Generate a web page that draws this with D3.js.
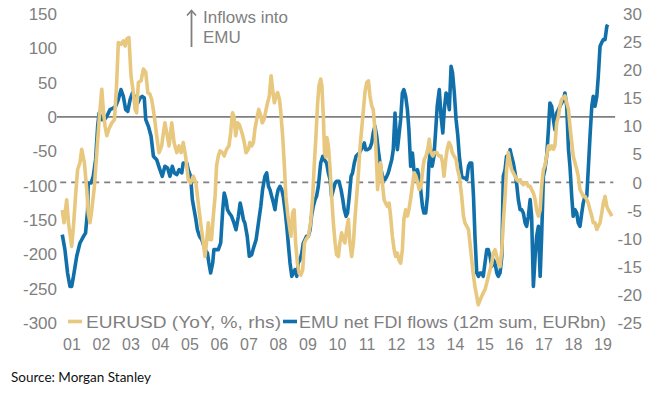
<!DOCTYPE html>
<html><head><meta charset="utf-8">
<script src="https://cdn.jsdelivr.net/npm/d3@7"></script>
<style>html,body{margin:0;padding:0;background:#fff;}svg{display:block;}</style>
</head><body>
<script>
// EURUSD YoY % (right axis) : [decimal year, value]
const eurusd = [
[2000.67,-4.9],[2000.73,-7.2],[2000.82,-3.1],[2000.88,-7.2],[2000.99,-11.4],[2001.05,-7.8],[2001.12,-2.5],[2001.19,2.3],[2001.27,3.5],[2001.33,5.9],[2001.42,3.5],[2001.50,-1.3],[2001.55,-5.4],[2001.61,-7.2],[2001.67,-4.9],[2001.76,-0.7],[2001.84,5.3],[2001.92,11.2],[2002.01,16.6],[2002.06,13.0],[2002.12,10.0],[2002.18,8.3],[2002.25,9.5],[2002.35,10.6],[2002.44,11.2],[2002.51,17.2],[2002.57,24.9],[2002.66,24.6],[2002.74,25.2],[2002.80,24.3],[2002.85,25.5],[2002.93,25.8],[2003.00,19.0],[2003.08,16.0],[2003.14,13.0],[2003.19,12.4],[2003.25,17.8],[2003.34,18.1],[2003.42,20.2],[2003.50,19.6],[2003.57,16.0],[2003.64,15.7],[2003.70,14.8],[2003.79,11.8],[2003.87,8.3],[2003.95,5.3],[2004.04,6.5],[2004.10,8.9],[2004.15,10.6],[2004.23,8.3],[2004.29,6.5],[2004.38,10.6],[2004.46,7.1],[2004.55,5.3],[2004.63,6.5],[2004.70,5.3],[2004.77,7.1],[2004.85,4.7],[2004.94,0.5],[2005.02,-0.1],
[2005.11,1.1],[2005.20,-0.1],[2005.28,-3.7],[2005.36,-7.2],[2005.45,-10.8],[2005.51,-13.2],[2005.57,-10.2],[2005.62,-7.2],[2005.68,-10.2],[2005.73,-10.2],[2005.79,-6.0],[2005.85,-2.5],[2005.90,2.9],[2005.96,4.7],[2006.02,5.6],[2006.10,5.3],[2006.16,4.7],[2006.24,5.9],[2006.32,6.5],[2006.38,8.9],[2006.44,12.4],[2006.49,11.8],[2006.55,8.3],[2006.61,10.6],[2006.67,10.3],[2006.72,9.5],[2006.79,8.3],[2006.84,7.1],[2006.90,5.3],[2006.98,5.9],[2007.03,7.1],[2007.09,6.5],[2007.15,7.1],[2007.20,9.5],[2007.26,11.2],[2007.33,13.0],[2007.40,11.8],[2007.45,10.6],[2007.51,11.2],[2007.58,13.0],[2007.63,14.2],[2007.69,15.4],[2007.75,19.0],[2007.80,16.6],[2007.86,14.2],[2007.92,15.4],[2007.97,16.0],[2008.03,14.8],[2008.07,13.0],[2008.14,8.3],[2008.20,2.9],[2008.25,-2.5],[2008.32,-6.0],[2008.37,-7.8],[2008.42,-9.6],[2008.48,-5.4],[2008.53,-4.9],[2008.58,-10.8],[2008.64,-14.4],[2008.70,-16.2],[2008.76,-16.5],[2008.82,-15.6],[2008.88,-10.8],[2008.93,-10.2],[2009.01,-9.6],[2009.09,-7.2],[2009.16,-2.5],[2009.21,2.9],[2009.27,8.3],[2009.32,13.6],[2009.37,17.2],[2009.43,18.4],[2009.47,17.2],[2009.52,11.8],[2009.56,5.3],[2009.60,4.5],[2009.64,8.0],
[2009.69,6.5],[2009.75,2.3],[2009.80,-2.5],[2009.86,-7.2],[2009.92,-10.8],[2009.97,-12.9],[2010.03,-13.2],[2010.08,-10.8],[2010.14,-9.0],[2010.20,-10.2],[2010.25,-10.8],[2010.31,-8.4],[2010.37,-6.6],[2010.42,-10.8],[2010.48,-13.2],[2010.54,-10.8],[2010.59,-6.6],[2010.65,-2.5],[2010.71,1.7],[2010.76,5.9],[2010.82,9.5],[2010.88,13.0],[2010.93,16.0],[2010.99,17.8],[2011.05,18.1],[2011.10,15.4],[2011.16,13.6],[2011.21,13.0],[2011.27,9.5],[2011.33,2.9],[2011.36,-1.3],[2011.41,1.7],[2011.46,3.5],[2011.52,-0.1],[2011.58,-3.1],[2011.63,-3.7],[2011.69,-4.3],[2011.75,-3.7],[2011.80,-6.0],[2011.86,-9.6],[2011.92,-12.0],[2011.97,-13.2],[2012.03,-12.6],[2012.08,-13.8],[2012.14,-14.4],[2012.20,-12.0],[2012.25,-6.6],[2012.31,-4.9],[2012.37,-6.0],[2012.42,-4.9],[2012.49,-2.5],[2012.55,-0.1],[2012.60,1.7],[2012.66,1.1],[2012.72,-0.1],[2012.77,-1.3],[2012.83,-0.7],[2012.89,2.3],[2012.94,4.1],[2013.00,4.7],[2013.06,5.9],[2013.11,7.7],[2013.17,5.3],[2013.23,4.7],[2013.28,5.3],[2013.36,5.3],[2013.44,4.7],[2013.51,4.7],[2013.56,3.5],[2013.61,1.1],[2013.67,4.1],[2013.72,5.9],[2013.78,7.1],[2013.84,6.5],[2013.89,5.3],[2013.95,4.7],[2014.02,4.1],[2014.07,2.3],[2014.13,1.1],
[2014.21,-2.5],[2014.27,-6.0],[2014.32,-7.2],[2014.38,-7.8],[2014.44,-8.4],[2014.49,-10.8],[2014.55,-13.8],[2014.60,-16.2],[2014.66,-18.6],[2014.72,-20.3],[2014.77,-21.8],[2014.83,-21.0],[2014.89,-20.3],[2014.94,-19.7],[2015.00,-19.1],[2015.06,-17.9],[2015.11,-16.8],[2015.17,-15.6],[2015.23,-14.4],[2015.28,-12.6],[2015.34,-12.0],[2015.40,-13.2],[2015.45,-14.4],[2015.51,-15.0],[2015.57,-12.0],[2015.62,-7.2],[2015.68,-2.5],[2015.73,2.3],[2015.79,5.3],[2015.85,3.5],[2015.90,2.3],[2015.96,1.7],[2016.02,1.1],[2016.07,0.5],[2016.13,0.2],[2016.19,0.5],[2016.24,-0.1],[2016.30,-0.4],[2016.36,-0.1],[2016.41,-0.1],[2016.47,-0.7],[2016.53,-0.7],[2016.58,-1.3],[2016.64,-1.9],[2016.70,-3.1],[2016.75,-4.9],[2016.81,-6.0],[2016.87,-4.9],[2016.92,-0.7],[2016.98,2.3],[2017.03,2.9],[2017.09,4.7],[2017.15,6.5],[2017.20,5.9],[2017.26,6.5],[2017.32,5.9],[2017.37,6.5],[2017.43,10.6],[2017.49,11.8],[2017.54,13.6],[2017.60,14.8],[2017.66,15.1],[2017.71,15.4],[2017.77,14.2],[2017.83,13.0],[2017.88,10.0],[2017.94,7.1],[2017.99,4.7],[2018.05,3.5],[2018.11,2.3],[2018.16,1.1],[2018.22,-1.3],[2018.28,-1.9],[2018.33,-2.5],[2018.39,-2.5],[2018.45,-3.1],[2018.50,-3.7],[2018.56,-4.9],[2018.62,-6.0],[2018.67,-7.2],[2018.73,-7.2],[2018.79,-8.4],[2018.84,-7.8],[2018.90,-7.2],[2018.96,-5.4],[2019.01,-3.7],[2019.07,-2.5],[2019.13,-4.3],[2019.18,-4.9],[2019.24,-5.4],[2019.30,-6.0]
];
// EMU net FDI flows, 12m sum, EURbn (left axis) : [decimal year, value]
const fdi = [
[2000.67,-171.7],[2000.76,-193.5],[2000.85,-227.5],[2000.93,-247.0],[2000.99,-247.0],[2001.05,-232.4],[2001.16,-203.2],[2001.27,-183.8],[2001.39,-174.1],[2001.46,-169.2],[2001.53,-135.2],[2001.55,-96.3],[2001.65,-96.3],[2001.72,-86.6],[2001.80,-62.3],[2001.87,-13.7],[2001.92,5.7],[2002.01,-4.0],[2002.10,-4.0],[2002.18,0.9],[2002.29,10.6],[2002.40,13.0],[2002.48,15.5],[2002.57,25.2],[2002.66,39.8],[2002.74,30.0],[2002.82,10.6],[2002.89,8.2],[2002.97,25.2],[2003.05,34.9],[2003.14,27.6],[2003.23,20.3],[2003.31,27.6],[2003.38,30.0],[2003.45,27.6],[2003.50,-4.0],[2003.59,-13.7],[2003.68,-28.3],[2003.76,-57.4],[2003.87,-62.3],[2003.98,-76.9],[2004.06,-86.6],[2004.15,-72.0],[2004.24,-74.5],[2004.32,-86.6],[2004.40,-72.0],[2004.47,-81.7],[2004.55,-84.2],[2004.63,-76.9],[2004.72,-81.7],[2004.77,-67.2],[2004.89,-67.2],[2004.94,-76.9],[2005.02,-86.6],[2005.08,-120.6],
[2005.20,-149.8],[2005.25,-164.4],[2005.32,-174.1],[2005.40,-179.0],[2005.51,-193.5],[2005.59,-198.4],[2005.64,-212.9],[2005.70,-227.5],[2005.77,-212.9],[2005.81,-193.5],[2005.88,-193.5],[2005.96,-193.5],[2006.04,-183.8],[2006.11,-135.2],[2006.16,-110.9],[2006.22,-120.6],[2006.27,-135.2],[2006.33,-140.1],[2006.41,-144.9],[2006.49,-154.6],[2006.56,-164.4],[2006.64,-144.9],[2006.70,-125.5],[2006.75,-135.2],[2006.81,-149.8],[2006.86,-154.6],[2006.94,-174.1],[2007.01,-203.2],[2007.09,-200.8],[2007.17,-188.7],[2007.24,-179.0],[2007.32,-154.6],[2007.40,-130.3],[2007.46,-106.0],[2007.54,-86.6],[2007.60,-81.7],[2007.66,-101.2],[2007.71,-106.0],[2007.77,-115.8],[2007.83,-125.5],[2007.88,-135.2],[2007.94,-115.8],[2007.99,-106.0],[2008.05,-101.2],[2008.11,-106.0],[2008.16,-115.8],[2008.22,-135.2],[2008.28,-159.5],[2008.33,-183.8],[2008.39,-212.9],[2008.45,-232.4],[2008.50,-227.5],[2008.56,-222.7],[2008.62,-232.4],[2008.67,-212.9],[2008.73,-208.1],[2008.79,-198.4],[2008.84,-183.8],[2008.90,-178.9],[2008.95,-174.1],[2009.01,-174.1],[2009.07,-164.4],[2009.12,-144.9],[2009.18,-130.3],[2009.24,-120.6],[2009.29,-115.8],[2009.35,-101.2],[2009.43,-67.2],[2009.50,-57.4],[2009.55,-62.3],[2009.63,-67.2],
[2009.69,-81.7],[2009.75,-91.5],[2009.80,-115.8],[2009.86,-106.0],[2009.92,-96.3],[2009.97,-93.9],[2010.05,-93.9],[2010.12,-106.0],[2010.18,-120.6],[2010.23,-135.2],[2010.29,-144.9],[2010.34,-140.1],[2010.40,-115.8],[2010.46,-86.6],[2010.51,-81.7],[2010.57,-67.2],[2010.63,-57.4],[2010.68,-55.0],[2010.74,-52.6],[2010.80,-47.7],[2010.85,-42.9],[2010.91,-38.0],[2010.95,-47.7],[2011.02,-47.7],[2011.10,-45.3],[2011.16,-38.0],[2011.21,-23.4],[2011.27,-13.7],[2011.33,-28.3],[2011.38,-47.7],[2011.44,-67.2],[2011.50,-81.7],[2011.55,-89.0],[2011.61,-91.5],[2011.67,-86.6],[2011.72,-81.7],[2011.78,-72.0],[2011.84,-62.3],[2011.89,-47.7],[2011.95,5.7],[2011.98,-18.6],[2012.03,-47.7],[2012.08,-28.3],[2012.14,-4.0],[2012.20,34.9],[2012.25,39.8],[2012.31,30.0],[2012.37,10.6],[2012.42,-18.6],[2012.48,-72.0],[2012.54,-52.6],[2012.59,-76.9],[2012.65,-86.6],[2012.71,-76.9],[2012.76,-86.6],[2012.82,-106.0],[2012.88,-130.3],[2012.93,-140.1],[2012.99,-140.1],[2013.05,-115.8],[2013.10,-67.2],[2013.16,-47.7],[2013.21,-72.0],[2013.27,-57.4],[2013.33,-18.6],[2013.38,15.5],[2013.45,39.8],[2013.51,0.9],[2013.57,-23.4],[2013.62,10.6],[2013.68,34.9],[2013.73,30.0],[2013.79,10.6],[2013.85,73.8],[2013.90,64.1],[2013.96,34.9],[2014.02,-4.0],[2014.08,-28.3],[2014.13,-57.4],
[2014.21,-86.6],[2014.27,-89.0],[2014.32,-89.0],[2014.38,-91.5],[2014.44,-72.0],[2014.49,-67.2],[2014.55,-67.2],[2014.61,-115.8],[2014.66,-174.1],[2014.72,-227.5],[2014.78,-232.4],[2014.83,-227.5],[2014.89,-227.5],[2014.94,-232.4],[2015.00,-212.9],[2015.06,-193.5],[2015.11,-193.5],[2015.17,-203.2],[2015.23,-217.8],[2015.28,-208.1],[2015.34,-212.9],[2015.40,-227.5],[2015.45,-232.4],[2015.51,-227.5],[2015.57,-203.2],[2015.62,-86.6],[2015.68,-76.9],[2015.73,-57.4],[2015.79,-67.2],[2015.85,-47.7],[2015.90,-57.4],[2015.96,-67.2],[2016.02,-81.7],[2016.07,-96.3],[2016.13,-120.6],[2016.19,-135.2],[2016.24,-135.2],[2016.30,-140.1],[2016.36,-154.6],[2016.41,-159.5],[2016.47,-144.9],[2016.53,-120.6],[2016.58,-144.9],[2016.64,-247.0],[2016.70,-203.2],[2016.75,-174.1],[2016.81,-159.5],[2016.87,-232.4],[2016.92,-174.1],[2016.98,-86.6],[2017.03,-76.9],[2017.09,-57.4],[2017.15,-18.6],[2017.20,20.3],[2017.26,15.5],[2017.32,-4.0],[2017.37,-18.6],[2017.43,5.7],[2017.49,10.6],[2017.54,15.5],[2017.60,20.3],[2017.66,25.2],[2017.71,34.9],[2017.77,15.5],[2017.83,-47.7],[2017.88,-72.0],[2017.94,-115.8],[2017.99,-144.9],[2018.05,-135.2],[2018.11,-140.1],[2018.16,-154.6],[2018.22,-159.5],[2018.28,-140.1],[2018.33,-125.5],[2018.39,-115.8],[2018.45,-115.8],[2018.50,-76.9],[2018.56,-28.3],[2018.62,15.5],[2018.67,30.0],[2018.73,15.5],[2018.79,30.0],[2018.84,59.2],[2018.90,102.9],[2018.95,107.8],[2019.01,112.7],[2019.07,112.7],[2019.13,132.1],[2019.16,134.5]
];
const leftTicks = [150,100,50,0,-50,-100,-150,-200,-250,-300];
const rightTicks = [30,25,20,15,10,5,0,-5,-10,-15,-20,-25];
const yearTicks = [2001,2002,2003,2004,2005,2006,2007,2008,2009,2010,2011,2012,2013,2014,2015,2016,2017,2018,2019];
const yearLabels = ["01","02","03","04","05","06","07","08","09","10","11","12","13","14","15","16","17","18","19"];
const legendLabels = ["EURUSD (YoY, %, rhs)","EMU net FDI flows (12m sum, EURbn)"];
const annotation = ["Inflows into","EMU"];
const sourceText = "Source: Morgan Stanley";

const W = 660, H = 396;
const GOLD = "#E8C77E", BLUE = "#1170AA", GRAY = "#7f7f7f";
const svg = d3.select("body").append("svg").attr("width", W).attr("height", H);
svg.append("rect").attr("width", W).attr("height", H).attr("fill", "#fff");

const x = d3.scaleLinear().domain([2001, 2019]).range([72, 603]);
const yL = d3.scaleLinear().domain([-300, 150]).range([322.7, 14]);
const yR = d3.scaleLinear().domain([-25, 30]).range([322.7, 14]);
const font = "'Liberation Sans', Arial, sans-serif";

// reference lines
svg.append("line").attr("x1", x(2000.49)).attr("x2", x(2019.41))
  .attr("y1", yL(0)).attr("y2", yL(0)).attr("stroke", GRAY).attr("stroke-width", 1.8);
svg.append("line").attr("x1", x(2000.6)).attr("x2", x(2019.35))
  .attr("y1", yR(0)).attr("y2", yR(0)).attr("stroke", GRAY).attr("stroke-width", 1.6)
  .attr("stroke-dasharray", "6,5");

// left ticks
svg.append("g").selectAll("text").data(leftTicks).join("text")
  .attr("x", 57).attr("y", d => yL(d)).attr("dy", "0.36em").attr("text-anchor", "end")
  .attr("font-family", font).attr("font-size", 17).attr("fill", GRAY).text(d => d);
// right ticks
svg.append("g").selectAll("text").data(rightTicks).join("text")
  .attr("x", 642).attr("y", d => yR(d)).attr("dy", "0.36em").attr("text-anchor", "end")
  .attr("font-family", font).attr("font-size", 17).attr("fill", GRAY).text(d => d);
// year labels
svg.append("g").selectAll("text").data(yearTicks).join("text")
  .attr("x", d => x(d)).attr("y", 350).attr("text-anchor", "middle")
  .attr("font-family", font).attr("font-size", 16).attr("fill", GRAY).text((d, i) => yearLabels[i]);

// lines
const lineL = d3.line().x(d => x(d[0])).y(d => yL(d[1]));
const lineR = d3.line().x(d => x(d[0])).y(d => yR(d[1]));
svg.append("path").datum(fdi).attr("d", lineL).attr("fill", "none")
  .attr("stroke", BLUE).attr("stroke-width", 3.6).attr("stroke-linejoin", "round");
svg.append("path").datum(eurusd).attr("d", lineR).attr("fill", "none")
  .attr("stroke", GOLD).attr("stroke-width", 3.6).attr("stroke-linejoin", "round");

// legend
const lg = svg.append("g");
lg.append("line").attr("x1", 68).attr("x2", 82).attr("y1", 321.5).attr("y2", 321.5).attr("stroke", GOLD).attr("stroke-width", 3.6);
lg.append("text").attr("x", 86).attr("y", 327.5).attr("font-family", font).attr("font-size", 17)
  .attr("fill", GRAY).attr("textLength", 195).attr("lengthAdjust", "spacingAndGlyphs").text(legendLabels[0]);
lg.append("line").attr("x1", 283).attr("x2", 297).attr("y1", 321.5).attr("y2", 321.5).attr("stroke", BLUE).attr("stroke-width", 3.6);
lg.append("text").attr("x", 299).attr("y", 327.5).attr("font-family", font).attr("font-size", 17)
  .attr("fill", GRAY).attr("textLength", 307).attr("lengthAdjust", "spacingAndGlyphs").text(legendLabels[1]);

// annotation arrow
svg.append("line").attr("x1", 191.5).attr("x2", 191.5).attr("y1", 47).attr("y2", 11)
  .attr("stroke", GRAY).attr("stroke-width", 1.8);
svg.append("path").attr("d", "M187,15.5 L191.5,10.5 L196,15.5").attr("fill", "none")
  .attr("stroke", GRAY).attr("stroke-width", 1.6).attr("stroke-linejoin", "miter");
svg.append("g").selectAll("text").data(annotation).join("text")
  .attr("x", 203).attr("y", (d, i) => 23 + i * 20)
  .attr("font-family", font).attr("font-size", 17).attr("fill", GRAY).text(d => d);

// source
svg.append("text").attr("x", 11).attr("y", 382).attr("font-family", "Lato, 'Noto Sans', sans-serif")
  .attr("font-size", 14).attr("fill", "#111").attr("textLength", 140).attr("lengthAdjust", "spacingAndGlyphs").text(sourceText);
</script>
</body></html>
